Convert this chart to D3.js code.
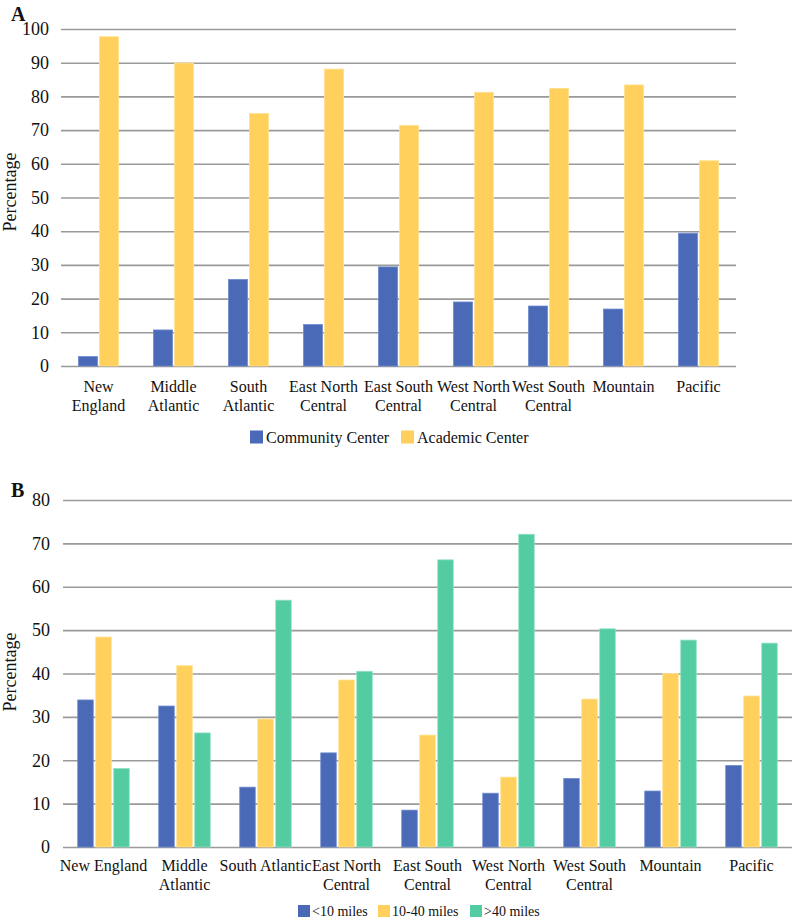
<!DOCTYPE html>
<html>
<head>
<meta charset="utf-8">
<script src="https://cdn.jsdelivr.net/npm/d3@7"></script>
<style>
  body { margin: 0; background: #fff; }
  svg text { font-family: 'Liberation Serif', 'DejaVu Serif', serif; }
</style>
</head>
<body>
<svg id="chart" width="800" height="924"></svg>
<script>
// ---------- Data ----------
const regions = ["New England", "Middle Atlantic", "South Atlantic", "East North Central",
  "East South Central", "West North Central", "West South Central", "Mountain", "Pacific"];

// Panel A: axis label lines
const labelsA = [["New", "England"], ["Middle", "Atlantic"], ["South", "Atlantic"], ["East North", "Central"],
  ["East South", "Central"], ["West North", "Central"], ["West South", "Central"], ["Mountain"], ["Pacific"]];
const seriesA = ["Community Center", "Academic Center"];
const communityCenter = [2.8, 10.7, 25.7, 12.3, 29.4, 19.0, 17.8, 16.9, 39.4];
const academicCenter  = [97.7, 89.9, 74.9, 88.1, 71.4, 81.2, 82.4, 83.4, 60.9];
const ticksA = [0, 10, 20, 30, 40, 50, 60, 70, 80, 90, 100];

// Panel B
const labelsB = [["New England"], ["Middle", "Atlantic"], ["South Atlantic"], ["East North", "Central"],
  ["East South", "Central"], ["West North", "Central"], ["West South", "Central"], ["Mountain"], ["Pacific"]];
const seriesB = ["<10 miles", "10-40 miles", ">40 miles"];
const lt10   = [33.9, 32.5, 13.8, 21.7, 8.5, 12.4, 15.8, 12.9, 18.8];
const m10_40 = [48.4, 41.8, 29.5, 38.5, 25.8, 16.1, 34.1, 40.0, 34.8];
const gt40   = [18.1, 26.3, 56.9, 40.5, 66.2, 72.1, 50.3, 47.7, 47.0];
const ticksB = [0, 10, 20, 30, 40, 50, 60, 70, 80];

const colors = ["#4A69B6", "#FFD15C", "#52CCA0"];
const strokes = ["#6f8bd0", "#ffe08f", "#8fe0c2"];
const FONT = "'Liberation Serif', 'DejaVu Serif', serif";

const svg = d3.select("#chart");

function panel(opts) {
  const g = svg.append("g");
  const x0 = d3.scaleBand().domain(regions).range([opts.left, opts.right]);
  const y = d3.scaleLinear().domain([0, opts.max]).range([opts.bottom, opts.top]);
  const groupW = opts.barW * opts.series.length + opts.gap * (opts.series.length - 1);
  const x1 = d3.scaleBand().domain(opts.series).range([0, groupW]).paddingInner(opts.gap / (opts.barW + opts.gap));

  // grid
  const yAxis = d3.axisLeft(y).tickValues(opts.ticks).tickSize(-(opts.right - opts.left)).tickPadding(opts.tickPad);
  const ga = g.append("g").attr("transform", `translate(${opts.left},0)`).call(yAxis)
    .attr("font-family", FONT).attr("font-size", opts.tickFont);
  ga.select(".domain").remove();
  ga.selectAll(".tick line").attr("stroke", "#9a9a9a").attr("stroke-width", 1.6);
  ga.selectAll(".tick text").attr("fill", "#111");

  // bars
  opts.series.forEach((s, si) => {
    g.append("g").selectAll("rect").data(regions).join("rect")
      .attr("x", d => x0(d) + (x0.bandwidth() - groupW) / 2 + x1(s))
      .attr("width", x1.bandwidth())
      .attr("y", (d, i) => y(opts.values[si][i]))
      .attr("height", (d, i) => y(0) - y(opts.values[si][i]))
      .attr("fill", colors[si])
      .attr("stroke", strokes[si]).attr("stroke-width", 0.8);
  });

  // x labels
  const lab = g.append("g").attr("font-family", FONT).attr("font-size", opts.labelFont);
  regions.forEach((r, i) => {
    const t = lab.append("text")
      .attr("x", x0(r) + x0.bandwidth() / 2)
      .attr("y", opts.bottom + opts.labelDy)
      .attr("text-anchor", "middle")
      .attr("fill", "#111");
    opts.labels[i].forEach((line, li) => {
      t.append("tspan").attr("x", x0(r) + x0.bandwidth() / 2).attr("dy", li === 0 ? 0 : opts.lineH).text(line);
    });
  });

  // y title
  g.append("text")
    .attr("transform", `translate(${opts.titleX},${opts.titleY}) rotate(-90)`)
    .attr("text-anchor", "middle").attr("fill", "#111")
    .attr("font-family", FONT).attr("font-size", opts.titleFont)
    .text("Percentage");

  // panel letter
  g.append("text").attr("x", 11).attr("y", opts.letterY)
    .attr("font-weight", "bold").attr("font-family", FONT).attr("font-size", 20).attr("fill", "#111")
    .text(opts.letter);

  // legend
  const leg = g.append("g").attr("font-family", FONT).attr("font-size", opts.legFont);
  opts.series.forEach((s, si) => {
    leg.append("rect").attr("x", opts.legX[si]).attr("y", opts.legY - opts.legSq / 2)
      .attr("width", opts.legSq).attr("height", opts.legSq).attr("fill", colors[si]);
    leg.append("text").attr("x", opts.legX[si] + opts.legSq + opts.legGap).attr("y", opts.legY)
      .attr("dominant-baseline", "central").attr("fill", "#111")
      .text(s);
  });
}

panel({
  letter: "A", letterY: 21,
  left: 61, right: 736, top: 29, bottom: 366, max: 100,
  ticks: ticksA, series: seriesA, values: [communityCenter, academicCenter],
  barW: 19, gap: 2, labels: labelsA, labelDy: 26, lineH: 19, tickPad: 12,
  tickFont: 18, labelFont: 16, titleFont: 18, titleX: 16, titleY: 192,
  legX: [250, 401], legY: 437, legSq: 13, legGap: 3, legFont: 16
});

panel({
  letter: "B", letterY: 497,
  left: 63, right: 792, top: 500, bottom: 847, max: 80,
  ticks: ticksB, series: seriesB, values: [lt10, m10_40, gt40],
  barW: 15.5, gap: 2.5, labels: labelsB, labelDy: 23.5, lineH: 19, tickPad: 13,
  tickFont: 18, labelFont: 16, titleFont: 18, titleX: 16, titleY: 672,
  legX: [298, 378, 470], legY: 911, legSq: 12, legGap: 2, legFont: 14
});
</script>
</body>
</html>
